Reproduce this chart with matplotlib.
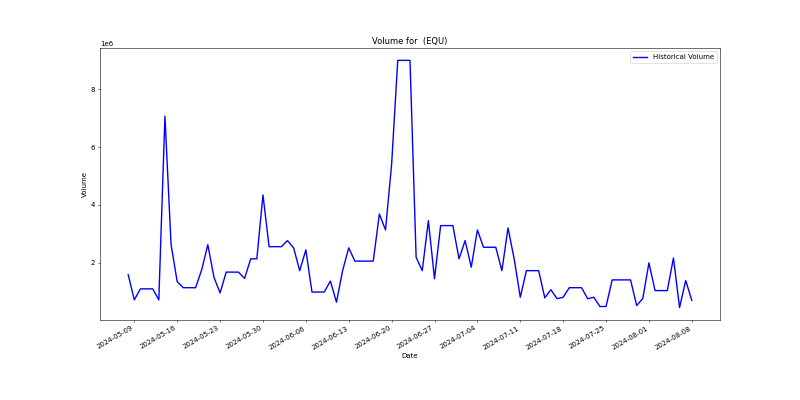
import matplotlib
matplotlib.use("Agg")
import matplotlib.pyplot as plt
import matplotlib.dates as mdates
import pandas as pd

TICKER = ""
EXCHANGE = "EQU"

START_DATE = "2024-05-08"
END_DATE = "2024-08-08"

# daily volume (millions), weekends carried forward
VOLUME_M = [
    1.58, 0.71, 1.09, 1.09, 1.09, 0.71, 7.07, 2.62, 1.34, 1.13,
    1.13, 1.13, 1.75, 2.62, 1.49, 0.95, 1.67, 1.67, 1.67, 1.45,
    2.13, 2.13, 4.34, 2.55, 2.55, 2.55, 2.76, 2.51, 1.72, 2.44,
    0.98, 0.98, 0.98, 1.36, 0.63, 1.72, 2.51, 2.05, 2.05, 2.05,
    2.05, 3.68, 3.13, 5.40, 9.00, 9.00, 9.00, 2.18, 1.72, 3.45,
    1.44, 3.28, 3.28, 3.28, 2.13, 2.76, 1.84, 3.13, 2.53, 2.53,
    2.53, 1.72, 3.20, 2.13, 0.80, 1.72, 1.72, 1.72, 0.78, 1.06,
    0.75, 0.80, 1.13, 1.13, 1.13, 0.75, 0.80, 0.48, 0.48, 1.40,
    1.40, 1.40, 1.40, 0.51, 0.76, 1.99, 1.03, 1.03, 1.03, 2.16,
    0.44, 1.38, 0.69,
]


def main():
    dates = pd.date_range(START_DATE, END_DATE, freq="D")
    volume = [v * 1e6 for v in VOLUME_M]

    fig, ax = plt.subplots(figsize=(16, 8), dpi=50)
    ax.plot(dates, volume, color="blue", linewidth=2, label="Historical Volume")

    ax.xaxis.set_major_locator(mdates.WeekdayLocator(byweekday=mdates.TH))
    ax.xaxis.set_major_formatter(mdates.DateFormatter("%Y-%m-%d"))

    ax.set_title(f"Volume for {TICKER} ({EXCHANGE})")
    ax.set_xlabel("Date")
    ax.set_ylabel("Volume")
    ax.legend(loc="upper right")
    fig.autofmt_xdate()

    fig.savefig("out.png", dpi=50)
    plt.close(fig)


if __name__ == "__main__":
    main()
